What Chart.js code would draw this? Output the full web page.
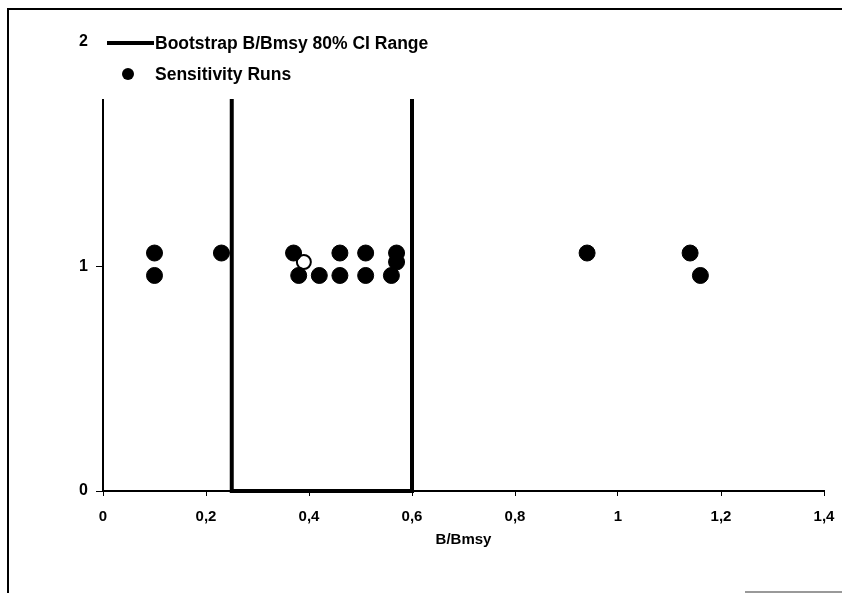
<!DOCTYPE html>
<html>
<head>
<meta charset="utf-8">
<script src="https://cdn.jsdelivr.net/npm/chart.js@4.4.1/dist/chart.umd.min.js"></script>
<style>
  body { margin: 0; background: #fff; }
  #wrap { width: 842px; height: 593px; }
</style>
</head>
<body>
<div id="wrap"><canvas id="bmsyChart" width="842" height="593"></canvas></div>
<script>
// Bootstrap 80% CI range, drawn as a box outline along the x axis
const ciX = [0.25, 0.25, 0.6, 0.6];
const ciY = [2, 0, 0, 2];

// Sensitivity runs (filled markers)
const runX = [0.10, 0.10, 0.23, 0.37, 0.38, 0.42, 0.46, 0.46, 0.51, 0.51, 0.56, 0.57, 0.57, 0.94, 1.14, 1.16];
const runY = [1.06, 0.96, 1.06, 1.06, 0.96, 0.96, 1.06, 0.96, 1.06, 0.96, 0.96, 1.06, 1.02, 1.06, 1.06, 0.96];

// one run plotted with an open marker
const openRunX = [0.39];
const openRunY = [1.02];

const xTickLabels = ['0', '0,2', '0,4', '0,6', '0,8', '1', '1,2', '1,4'];
const yTickLabels = ['0', '1', '2'];

const FONT = '"Liberation Sans", Arial, sans-serif';

function toPoints(xs, ys) {
    return xs.map((x, i) => ({ x: x, y: ys[i] }));
}

// Legend box sits inside the plot, on a white background
const boxedLegend = {
    id: 'boxedLegend',
    afterDraw(chart) {
        const ctx = chart.ctx;
        ctx.save();
        ctx.fillStyle = '#fff';
        ctx.fillRect(95, 26, 350, 73);

        ctx.strokeStyle = '#000';
        ctx.lineWidth = 4;
        ctx.beginPath();
        ctx.moveTo(107, 43);
        ctx.lineTo(154, 43);
        ctx.stroke();

        ctx.fillStyle = '#000';
        ctx.beginPath();
        ctx.arc(128, 74, 6, 0, Math.PI * 2);
        ctx.fill();

        ctx.font = 'bold 17.5px ' + FONT;
        ctx.textBaseline = 'middle';
        ctx.textAlign = 'left';
        ctx.fillText(chart.data.datasets[0].label, 155, 44);
        ctx.fillText(chart.data.datasets[1].label, 155, 75);
        ctx.restore();
    }
};

// Figure frame around the page
const frame = {
    id: 'frame',
    afterDraw(chart) {
        const ctx = chart.ctx;
        ctx.save();
        ctx.strokeStyle = '#000';
        ctx.lineWidth = 2;
        ctx.beginPath();
        ctx.moveTo(8, 593);
        ctx.lineTo(8, 9);
        ctx.lineTo(842, 9);
        ctx.stroke();
        ctx.strokeStyle = '#777';
        ctx.lineWidth = 1.5;
        ctx.beginPath();
        ctx.moveTo(745, 592);
        ctx.lineTo(842, 592);
        ctx.stroke();
        ctx.restore();
    }
};

new Chart(document.getElementById('bmsyChart'), {
    type: 'scatter',
    data: {
        datasets: [
            {
                label: 'Bootstrap B/Bmsy 80% CI Range',
                data: toPoints(ciX, ciY),
                showLine: true,
                borderColor: '#000',
                borderWidth: 4,
                pointRadius: 0,
                tension: 0,
                clip: false,
                order: 1
            },
            {
                label: 'Sensitivity Runs',
                data: toPoints(runX, runY),
                backgroundColor: '#000',
                borderColor: '#000',
                borderWidth: 1,
                pointRadius: 8,
                order: 0
            },
            {
                label: 'open',
                data: toPoints(openRunX, openRunY),
                backgroundColor: '#fff',
                borderColor: '#000',
                borderWidth: 2,
                pointRadius: 7,
                order: 2
            }
        ]
    },
    options: {
        responsive: false,
        animation: false,
        layout: { padding: { left: 0, top: 42, right: 18, bottom: 0 } },
        plugins: {
            legend: { display: false },
            tooltip: { enabled: false }
        },
        scales: {
            x: {
                type: 'linear',
                min: 0,
                max: 1.4,
                afterFit: (s) => {
                    s.height = 102;
                    s.paddingLeft = 0;
                    s.paddingRight = 0;
                },
                border: { display: true, color: '#000', width: 2 },
                grid: { drawOnChartArea: false, drawTicks: true, tickLength: 5, color: '#000' },
                ticks: {
                    stepSize: 0.2,
                    padding: 12,
                    color: '#000',
                    font: { family: FONT, size: 15, weight: 'bold' },
                    callback: (v, i) => xTickLabels[i]
                },
                title: {
                    display: true,
                    text: 'B/Bmsy',
                    color: '#000',
                    font: { family: FONT, size: 15, weight: 'bold' },
                    padding: { top: 4, bottom: 44 }
                }
            },
            y: {
                min: 0,
                max: 2,
                afterFit: (s) => { s.width = 103; },
                border: { display: true, color: '#000', width: 2 },
                grid: { drawOnChartArea: false, drawTicks: true, tickLength: 7, color: '#000' },
                ticks: {
                    stepSize: 1,
                    padding: 8,
                    color: '#000',
                    font: { family: FONT, size: 16, weight: 'bold' },
                    callback: (v, i) => yTickLabels[i]
                }
            }
        }
    },
    plugins: [boxedLegend, frame]
});
</script>
</body>
</html>
